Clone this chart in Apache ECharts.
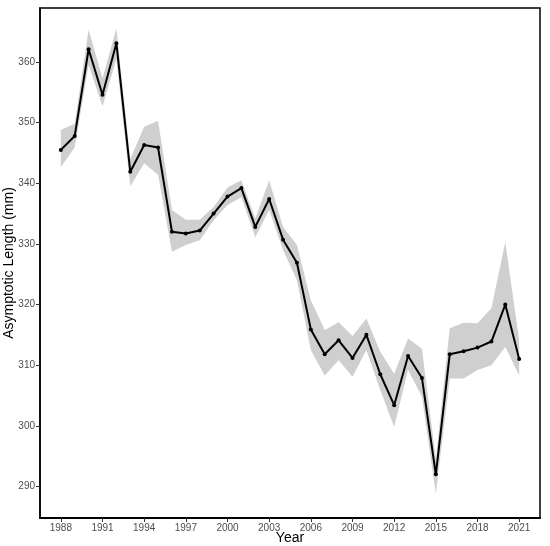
<!DOCTYPE html>
<html>
<head>
<meta charset="utf-8">
<script src="https://cdn.jsdelivr.net/npm/echarts@6/dist/echarts.min.js"></script>
<style>
  html, body { margin: 0; padding: 0; background: #fff; }
  #chart { width: 550px; height: 546px; }
</style>
</head>
<body>
<div id="chart"></div>
<script>
const years = [1988, 1989, 1990, 1991, 1992, 1993, 1994, 1995, 1996, 1997, 1998,
  1999, 2000, 2001, 2002, 2003, 2004, 2005, 2006, 2007, 2008, 2009, 2010,
  2011, 2012, 2013, 2014, 2015, 2016, 2017, 2018, 2019, 2020, 2021];
const estimate = [345.5, 347.8, 362.1, 354.6, 363.1, 341.9, 346.3, 345.9, 332.0, 331.7, 332.2,
  335.0, 337.8, 339.2, 332.8, 337.4, 330.7, 326.9, 315.9, 311.8, 314.1, 311.2, 315.0,
  308.5, 303.4, 311.5, 307.9, 292.0, 311.8, 312.3, 312.9, 313.9, 320.0, 311.0];
const lower = [342.7, 345.9, 359.5, 352.7, 360.5, 339.5, 343.3, 341.4, 328.7, 329.8, 330.6,
  333.9, 336.4, 337.7, 331.1, 335.6, 329.0, 324.0, 312.5, 308.3, 310.8, 308.1, 312.5,
  305.9, 299.8, 309.2, 304.8, 288.8, 307.8, 307.8, 309.2, 310.0, 313.0, 308.3];
const upper = [348.8, 349.8, 365.3, 357.3, 365.5, 344.0, 349.3, 350.3, 335.6, 334.0, 334.0,
  336.1, 339.3, 340.5, 334.2, 340.5, 332.8, 329.8, 320.7, 315.8, 317.1, 314.8, 317.7,
  312.2, 308.6, 314.4, 312.7, 294.5, 316.1, 317.0, 316.9, 319.4, 330.3, 314.1];
const xTicks = [1988, 1991, 1994, 1997, 2000, 2003, 2006, 2009, 2012, 2015, 2018, 2021];
const yTicks = [290, 300, 310, 320, 330, 340, 350, 360];

const chart = echarts.init(document.getElementById('chart'));

const labelStyle = { color: '#4d4d4d', fontFamily: 'Liberation Sans', fontSize: 10 };

// band polygon: upper edge left to right, then lower edge back
const bandData = years.map((y, i) => [y, lower[i], upper[i]]);

chart.setOption({
  animation: false,
  grid: {
    left: 40, right: 10, top: 8, bottom: 28,
    outerBoundsMode: 'none',
    show: true, borderColor: '#000', borderWidth: 1.5
  },
  xAxis: {
    type: 'value',
    min: 1986.5,
    max: 2022.5,
    name: 'Year',
    nameLocation: 'middle',
    nameGap: 13,
    nameMoveOverlap: false,
    nameTextStyle: { color: '#000', fontFamily: 'Liberation Sans', fontSize: 14 },
    axisLine: { show: true, lineStyle: { color: '#000', width: 2 } },
    axisTick: { show: true, length: 4, lineStyle: { color: '#333' }, customValues: xTicks },
    axisLabel: Object.assign({ margin: 5, customValues: xTicks, formatter: v => String(v) }, labelStyle),
    splitLine: { show: false }
  },
  yAxis: {
    type: 'value',
    min: 284.8,
    max: 368.9,
    name: 'Asymptotic Length (mm)',
    nameLocation: 'middle',
    nameGap: 24,
    nameMoveOverlap: false,
    nameTextStyle: { color: '#000', fontFamily: 'Liberation Sans', fontSize: 14 },
    axisLine: { show: true, lineStyle: { color: '#000', width: 1.5 } },
    axisTick: { show: true, length: 4, lineStyle: { color: '#333' }, customValues: yTicks },
    axisLabel: Object.assign({ margin: 5, customValues: yTicks }, labelStyle),
    splitLine: { show: false }
  },
  series: [
    {
      type: 'custom',
      data: bandData,
      encode: { x: 0, y: [1, 2] },
      silent: true,
      renderItem: (params, api) => {
        if (params.dataIndex !== 0) return null;
        const top = [], bottom = [];
        for (let i = 0; i < bandData.length; i++) {
          top.push(api.coord([bandData[i][0], bandData[i][2]]));
          bottom.push(api.coord([bandData[i][0], bandData[i][1]]));
        }
        return {
          type: 'polygon',
          shape: { points: top.concat(bottom.reverse()) },
          style: { fill: '#cfcfcf', stroke: null }
        };
      },
      z: 1
    },
    {
      type: 'line',
      data: years.map((y, i) => [y, estimate[i]]),
      lineStyle: { color: '#000', width: 2 },
      itemStyle: { color: '#000' },
      symbol: 'circle',
      symbolSize: 4,
      z: 5
    }
  ]
});
</script>
</body>
</html>
